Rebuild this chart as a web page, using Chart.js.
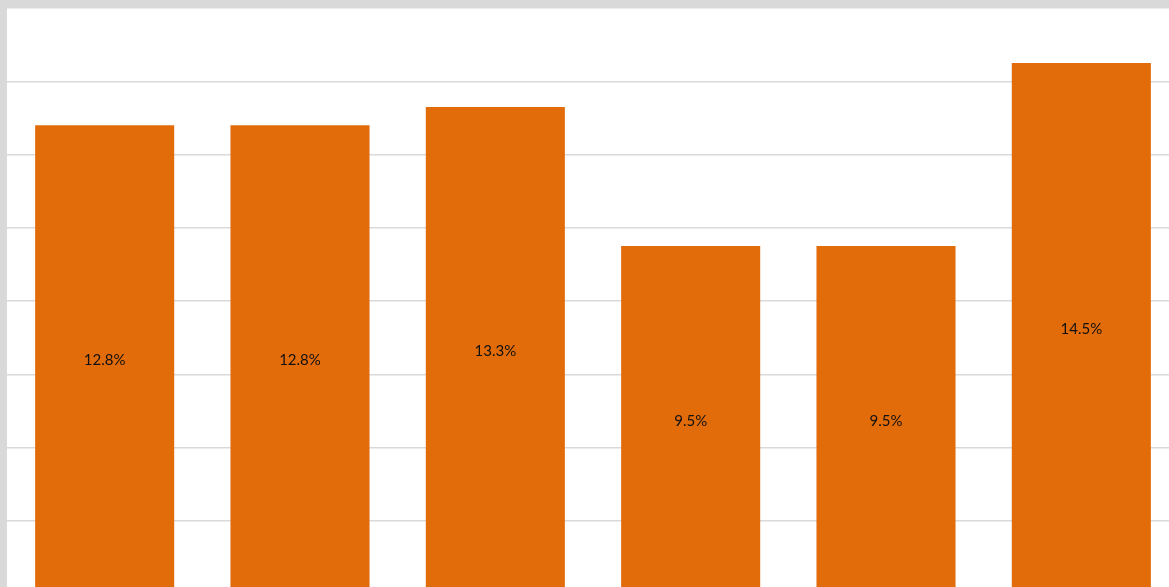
<!DOCTYPE html>
<html>
<head>
<meta charset="utf-8">
<script src="https://cdn.jsdelivr.net/npm/chart.js@4"></script>
<style>
  html, body { margin: 0; padding: 0; background: #d9d9d9; overflow: hidden; width: 1169px; height: 587px; }
  #frame { position: absolute; left: 7px; top: 8px; width: 1172px; height: 586px; background: #fff; }
  #chart { display: block; }
</style>
</head>
<body>
<div id="frame"><canvas id="chart" width="1172" height="586"></canvas></div>
<script>
const categories = ['1', '2', '3', '4', '5', '6'];
const shares = [12.8, 12.8, 13.3, 9.5, 9.5, 14.5];
const yMax = 16;
const yStep = 2;

// value text in the middle of each bar
const centerLabels = {
  id: 'centerLabels',
  afterDatasetsDraw(chart) {
    const ctx = chart.ctx;
    const meta = chart.getDatasetMeta(0);
    ctx.save();
    ctx.font = '15px Lato, "Open Sans", sans-serif';
    ctx.fillStyle = '#111';
    ctx.textAlign = 'center';
    ctx.textBaseline = 'middle';
    meta.data.forEach((bar, i) => {
      const mid = (bar.y + bar.base) / 2 + 1;
      ctx.fillText(shares[i].toFixed(1) + '%', bar.x, mid);
    });
    ctx.restore();
  }
};

new Chart(document.getElementById('chart'), {
  type: 'bar',
  data: {
    labels: categories,
    datasets: [{
      data: shares,
      backgroundColor: '#e36c0a',
      borderWidth: 0,
      categoryPercentage: 1,
      barPercentage: 0.712
    }]
  },
  options: {
    responsive: false,
    animation: false,
    layout: { padding: 0 },
    plugins: { legend: { display: false }, tooltip: { enabled: false } },
    scales: {
      x: { display: false },
      y: {
        min: 0,
        max: yMax,
        ticks: { display: false, stepSize: yStep },
        border: { display: false },
        grid: { color: '#d9d9d9', lineWidth: 1.5, drawTicks: false }
      }
    }
  },
  plugins: [centerLabels]
});
</script>
</body>
</html>
